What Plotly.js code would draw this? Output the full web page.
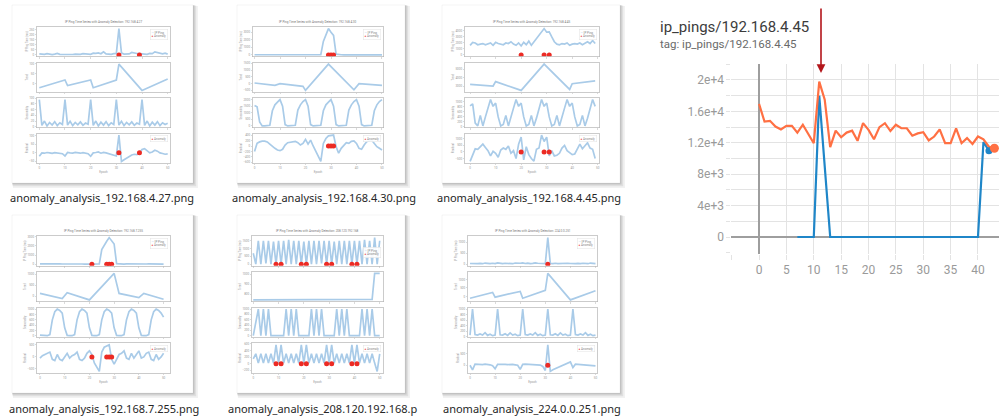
<!DOCTYPE html>
<html><head><meta charset="utf-8">
<script src="https://cdn.plot.ly/plotly-3.0.1.min.js"></script>
<style>html,body{margin:0;padding:0;background:#fff;}#chart{width:999px;height:419px;}</style>
</head><body><div id="chart"></div>
<script>
// ================= DATA =================
// Right panel (TensorBoard-like scalar chart)
const mainTitle = 'ip_pings/192.168.4.45';
const mainTag = 'tag: ip_pings/192.168.4.45';
const orangeSteps = [0,1,2,3,4,5,6,7,8,9,10,11,12,13,14,15,16,17,18,19,20,21,22,23,24,25,26,27,28,29,30,31,32,33,34,35,36,37,38,39,40,41,42,43];
const orangeVals = [16950,14700,14800,14070,13700,14150,14150,13300,14300,13200,11950,19800,17500,11450,13550,12700,13300,13550,12250,14500,13650,12450,14000,14500,13500,14300,13850,13850,12900,13200,13350,12300,12800,13700,11950,11950,13850,11950,12600,11850,12800,12450,11500,11300];
const blueSteps = [7,8,9,10,11,12,13,14,15,16,17,18,19,20,21,22,23,24,25,26,27,28,29,30,31,32,33,34,35,36,37,38,39,40,41,42];
const blueVals = [0,0,0,0,18000,9000,0,0,0,0,0,0,0,0,0,0,0,0,0,0,0,0,0,0,0,0,0,0,0,0,0,0,0,0,12100,11000];
const mainXTickVals = [-5,0,5,10,15,20,25,30,35,40];
const mainXTickText = ['','0','5','10','15','20','25','30','35','40'];
const mainYTickVals = [0,4000,8000,12000,16000,20000];
const mainYTickText = ['0','4e+3','8e+3','1.2e+4','1.6e+4','2e+4'];
const mainYMinorVals = [-2000,2000,6000,10000,14000,18000,22000];

// Thumbnails
const epochs = [0,1,2,3,4,5,6,7,8,9,10,11,12,13,14,15,16,17,18,19,20,21,22,23,24,25,26,27,28,29,30,31,32,33,34,35,36,37,38,39,40,41,42,43,44,45,46,47,48,49,50];
const ips = ['192.168.4.27','192.168.4.30','192.168.4.45','192.168.7.255','208.120.192.168','224.0.0.251'];
const captions = ['anomaly_analysis_192.168.4.27.png','anomaly_analysis_192.168.4.30.png','anomaly_analysis_192.168.4.45.png','anomaly_analysis_192.168.7.255.png','anomaly_analysis_208.120.192.168.p','anomaly_analysis_224.0.0.251.png'];
const subLabels = ['IP Ping Time (ms)','Trend','Seasonality','Residual'];

// 192.168.4.27
const p1 = [10,8,5,12,6,4,8,15,6,5,7,10,6,4,8,6,5,12,8,10,6,18,15,20,12,30,10,8,6,12,15,262,20,8,6,10,25,18,14,12,8,10,6,15,12,30,22,14,10,18,8];
const t1x = [0,10,11,20,21,30,31,40,50];
const t1y = [-19,19,-8,19,-19,19,97,-32,24];
const s1 = [95,5,20,3,15,6,18,4,14,8,95,6,19,4,15,7,17,5,13,9,95,5,20,3,16,6,18,4,14,8,95,6,19,4,15,7,17,5,13,9,95,5,20,3,16,6,18,4,14,8,12];
const r1 = [-20,0,-2,2,0,-3,1,0,-2,-5,-18,2,0,-1,3,0,-2,1,0,-5,-20,0,2,5,-2,3,0,-5,-8,-12,-18,104,-50,-40,-30,-20,-12,-8,-10,-3,20,25,10,0,5,15,10,0,-4,-8,-6];
const a1 = [31,39];

// 192.168.4.30
const p2 = [20,15,25,10,20,15,10,25,20,15,10,20,15,25,10,20,15,10,20,25,15,10,20,15,25,10,20,1800,2600,3500,3000,2600,100,15,20,10,25,15,20,10,15,20,10,25,15,20,10,15,20,25,15];
const t2x = [0,8,10,19,20,29,39,41,50];
const t2y = [50,-125,0,-200,-500,1450,-450,0,-125];
const s2 = [1550,1450,300,0,0,0,50,1150,1600,1800,2000,1500,100,0,0,0,50,1200,1600,1850,2000,1500,100,0,0,0,50,1150,1600,1800,2000,1500,100,0,0,0,50,1200,1600,1850,2000,1500,100,0,0,0,50,1150,1600,1850,2000];
const r2 = [-200,100,150,180,180,150,70,-25,-85,-145,-170,-120,35,120,130,155,170,120,35,95,240,70,215,0,-200,-385,-565,95,275,370,395,400,-25,-265,-85,35,120,95,170,190,95,-85,-120,35,155,190,215,95,-25,-85,-145];
const a2 = [29,30,31];

// 192.168.4.45
const p3 = [1600,2100,2000,1700,1800,1900,1700,1800,2000,1600,2100,1900,1800,1700,2000,1900,2200,1800,1600,2000,1500,2100,1700,2300,1600,2200,2600,3300,4000,4400,3800,3850,3000,2200,1800,1700,1900,1800,2000,1600,1800,1900,1800,2000,1700,1900,2200,1900,2400,1900];
const t3x = [0,9,10,20,29,39,40,49];
const t3y = [3200,3000,3520,2480,5600,2600,3280,3600];
const s3 = [840,920,150,40,460,40,400,750,1090,820,950,400,40,100,460,40,350,750,1090,820,950,400,40,100,460,40,350,750,1090,820,950,400,40,100,460,40,350,750,1090,820,950,400,40,100,460,40,350,750,1090,820];
const r3 = [-720,-200,240,200,400,600,350,100,-300,50,-100,-400,150,300,200,450,-100,100,-500,600,1140,-600,400,-200,-500,-700,200,300,1290,800,1140,-300,100,-300,-250,-100,300,500,100,-50,-200,-150,250,600,250,500,700,300,200,-500];
const a3 = [20,29,31];

// 192.168.7.255
const p4 = [20,10,15,25,10,20,15,10,20,15,25,10,20,15,10,20,25,15,10,20,15,10,20,25,15,1600,2100,2500,2900,2600,2200,50,15,20,10,25,15,20,10,15,20,10,25,15,20,10,15,20,25,15,10];
const t4x = [0,9,11,20,30,32,40,42,50];
const t4y = [120,-120,150,-180,1050,120,-75,120,-150];
const s4 = [30,20,10,10,50,600,900,1000,950,850,300,20,10,10,50,600,900,1000,950,850,300,20,10,10,50,600,900,1000,950,850,300,20,10,10,50,600,900,1000,950,850,300,20,10,10,50,600,900,1000,950,850,700];
const r4 = [-50,50,100,150,200,-100,-150,100,-100,-150,0,150,-50,50,100,200,-100,-150,-50,150,250,100,-250,-450,-600,200,400,450,500,-100,-300,-100,100,150,250,-50,-100,150,-50,100,250,-50,0,150,200,-100,-150,100,-100,0,150];
const a4 = [21,27,28,29];

// 208.120.192.168
const p5 = [700,0,1500,0,1500,50,1500,0,1450,0,1500,0,1500,0,1550,0,1500,0,1500,0,1450,0,1500,0,1500,0,1500,50,1500,0,1500,0,1450,0,1500,0,1500,0,1500,0,1500,0,1500,0,1550,0,1500,0,1700,0,1500];
const t5x = [0,47,48,50];
const t5y = [740,745,1010,1010];
const s5 = [0,500,1000,0,1000,0,1000,0,0,0,0,0,0,1000,0,1000,0,1000,0,0,0,0,0,1000,0,1000,0,1000,0,0,0,0,0,1000,0,1000,0,1000,0,0,0,0,0,1000,0,1000,0,1000,0,0,0];
const r5 = [150,300,20,300,20,300,20,300,20,570,20,570,20,300,20,300,20,300,20,570,20,570,20,300,20,300,20,300,20,570,20,570,20,300,20,300,20,300,20,570,20,570,20,300,20,300,20,300,20,-230,300];
const a5 = [9,11,19,21,29,31,39,41];

// 224.0.0.251
const p6 = [30,20,40,25,35,20,50,30,20,40,25,60,30,20,40,25,35,20,50,30,40,60,30,50,25,35,60,40,30,50,20,1200,30,25,40,20,30,25,35,40,30,20,25,35,20,40,30,20,50,30,25];
const t6x = [0,9,10,20,21,30,31,40,50];
const t6y = [-100,240,-40,300,-100,360,1360,-200,340];
const s6 = [60,1000,80,60,100,60,150,50,90,40,60,1000,70,60,110,50,140,60,90,40,60,1000,80,60,100,60,150,50,90,40,60,1000,70,60,110,50,140,60,90,40,60,1000,80,60,100,60,150,50,90,40,60];
const r6 = [0,-200,50,40,60,30,50,40,20,-20,-150,40,50,60,40,30,50,40,20,0,-180,40,50,40,30,20,40,30,10,-50,-230,900,-270,-200,-150,-100,-50,0,50,100,150,-100,50,40,30,20,10,0,-20,-10,-30];
const a6 = [31];

// ================= LAYOUT HELPERS =================
const W = 999, H = 419;
const fx = v => v / W;
const fy = v => 1 - v / H;

const thumbs = [
  {ping:p1, tx:t1x, ty:t1y, seas:s1, res:r1, an:a1},
  {ping:p2, tx:t2x, ty:t2y, seas:s2, res:r2, an:a2},
  {ping:p3, tx:t3x, ty:t3y, seas:s3, res:r3, an:a3},
  {ping:p4, tx:t4x, ty:t4y, seas:s4, res:r4, an:a4},
  {ping:p5, tx:t5x, ty:t5y, seas:s5, res:r5, an:a5},
  {ping:p6, tx:t6x, ty:t6y, seas:s6, res:r6, an:a6}
];
const frames = [
  {card:[12,5,193,183], ax:[37,170], rows:[27,163], xr:[-0.9,50.9], cap:[102,197], legTop:28},
  {card:[237,5,405,183], ax:[253,383], rows:[27,163], xr:[-0.6,50.4], cap:[324,197], legTop:28},
  {card:[442,5,620,183], ax:[465,599], rows:[27,163], xr:[-2,50.5], cap:[529,197], legTop:28},
  {card:[12,215,193,393], ax:[37,170], rows:[236,373], xr:[-1.2,52.6], cap:[104,408], legTop:237},
  {card:[237,215,405,393], ax:[252,383], rows:[236,373], xr:[-0.5,51.3], cap:[323,408], legTop:247},
  {card:[442,215,620,393], ax:[468,597], rows:[236,373], xr:[-0.8,50.6], cap:[532,408], legTop:237}
];

const lineBlue = '#a9cbe8';
const anomRed = '#ec2b24';
const traces = [];
const shapes = [];
const annotations = [];
const layout = {
  width: W, height: H, margin:{l:0,r:0,t:0,b:0}, autosize:false,
  paper_bgcolor:'#ffffff', plot_bgcolor:'rgba(0,0,0,0)', showlegend:false,
  font:{family:'Roboto, "Noto Sans", sans-serif'}
};

function padRange(arr){
  let mn = Math.min(...arr), mx = Math.max(...arr);
  const p = (mx - mn) * 0.06 || 1;
  return [mn - p, mx + p];
}

thumbs.forEach((t, i) => {
  const f = frames[i];
  const [cx0, cy0, cx1, cy1] = f.card;
  // card shadow + card
  shapes.push({type:'rect', xref:'paper', yref:'paper', layer:'below', x0:fx(cx0+1), x1:fx(cx1+5), y0:fy(cy1+5), y1:fy(cy0+1), fillcolor:'rgba(0,0,0,0.05)', line:{width:0}});
  shapes.push({type:'rect', xref:'paper', yref:'paper', layer:'below', x0:fx(cx0+0.5), x1:fx(cx1+3.2), y0:fy(cy1+3.2), y1:fy(cy0+0.5), fillcolor:'rgba(0,0,0,0.08)', line:{width:0}});
  shapes.push({type:'rect', xref:'paper', yref:'paper', layer:'below', x0:fx(cx0), x1:fx(cx1+1.6), y0:fy(cy1+1.6), y1:fy(cy0), fillcolor:'rgba(0,0,0,0.11)', line:{width:0}});
  shapes.push({type:'rect', xref:'paper', yref:'paper', layer:'below', x0:fx(cx0), x1:fx(cx1), y0:fy(cy1), y1:fy(cy0), fillcolor:'#ffffff', line:{color:'rgba(0,0,0,0.08)', width:0.6}});

  const [top, bot] = f.rows;
  const gap = 6;
  const h = (bot - top - 3*gap) / 4;
  const series = [
    {x: epochs.slice(0, t.ping.length), y: t.ping, anom:true},
    {x: t.tx, y: t.ty, anom:false},
    {x: epochs.slice(0, t.seas.length), y: t.seas, anom:false},
    {x: epochs.slice(0, t.res.length), y: t.res, anom:true}
  ];
  series.forEach((s, k) => {
    const idx = 2 + i*4 + k;
    const yt = top + k*(h+gap), yb = yt + h;
    const rngData = s.anom ? s.y.concat([0]) : s.y;
    layout['xaxis'+idx] = {
      domain:[fx(f.ax[0]), fx(f.ax[1])], range:f.xr, anchor:'y'+idx,
      showline:true, mirror:true, linecolor:'#b5b5b5', linewidth:0.7,
      showgrid:false, zeroline:false, ticks:'outside', ticklen:1.5, tickwidth:0.5, tickcolor:'#b5b5b5',
      tick0:0, dtick:10, showticklabels:k===3, tickfont:{size:3, color:'#999'},
      title: k===3 ? {text:'Epoch', font:{size:3, color:'#999'}, standoff:1} : undefined,
      fixedrange:true
    };
    layout['yaxis'+idx] = {
      domain:[fy(yb), fy(yt)], range:padRange(rngData), anchor:'x'+idx,
      showline:true, mirror:true, linecolor:'#b5b5b5', linewidth:0.7,
      showgrid:false, zeroline:false, ticks:'outside', ticklen:1.5, tickwidth:0.5, tickcolor:'#b5b5b5',
      nticks:6, tickfont:{size:3, color:'#999'},
      title:{text:subLabels[k], font:{size:2.6, color:'#999'}, standoff:1},
      fixedrange:true
    };
    traces.push({type:'scatter', mode:'lines', x:s.x, y:s.y, xaxis:'x'+idx, yaxis:'y'+idx,
      line:{color:lineBlue, width:1.7}, hoverinfo:'skip'});
    if (s.anom) {
      traces.push({type:'scatter', mode:'markers', x:t.an, y:t.an.map(() => 0), xaxis:'x'+idx, yaxis:'y'+idx,
        marker:{color:anomRed, size:5, line:{width:0}}, hoverinfo:'skip'});
    }
    if (k === 0) {
      annotations.push({xref:'paper', yref:'paper', x:fx((f.ax[0]+f.ax[1])/2), y:fy(yt-1), xanchor:'center', yanchor:'bottom',
        text:'IP Ping Time Series with Anomaly Detection: ' + ips[i], showarrow:false, font:{size:3, color:'#777'}});
      const ly = i === 4 ? f.legTop : yt + 1.5;
      annotations.push({xref:'paper', yref:'paper', x:fx(f.ax[1]-2), y:fy(ly), xanchor:'right', yanchor:'top', align:'left',
        text:'<span style="color:'+lineBlue+'">—</span> IP Ping<br><span style="color:'+anomRed+'">●</span> Anomaly',
        showarrow:false, font:{size:3, color:'#888'}, bgcolor:'rgba(255,255,255,0.9)', bordercolor:'#e2e2e2', borderwidth:0.5, borderpad:1});
    }
    if (k === 3) {
      annotations.push({xref:'paper', yref:'paper', x:fx(f.ax[1]-2), y:fy(yt+1.5), xanchor:'right', yanchor:'top', align:'left',
        text:'<span style="color:'+anomRed+'">●</span> Anomaly',
        showarrow:false, font:{size:3, color:'#888'}, bgcolor:'rgba(255,255,255,0.9)', bordercolor:'#e2e2e2', borderwidth:0.5, borderpad:1});
    }
  });
  // caption
  annotations.push({xref:'paper', yref:'paper', x:fx(f.cap[0]), y:fy(f.cap[1]), xanchor:'center', yanchor:'middle',
    text:captions[i], showarrow:false, font:{family:'"Noto Sans", "Open Sans", sans-serif', size:11, color:'#262626'}});
});

// ===== main chart =====
const gridC = '#e3e3e3';
const zeroC = '#9e9e9e';
const labC = '#9a9a9a';
const mainL = 731.4;
layout.xaxis = {
  domain:[fx(mainL), 1], range:[-5.05, 43.84], anchor:'y',
  tickmode:'array', tickvals:mainXTickVals, ticktext:mainXTickText,
  showgrid:true, gridcolor:gridC, gridwidth:1,
  zeroline:true, zerolinecolor:zeroC, zerolinewidth:1.6,
  ticks:'outside', ticklen:5, tickcolor:gridC, showline:false,
  tickfont:{family:'Roboto, sans-serif', size:12, color:labC}, fixedrange:true
};
layout.yaxis = {
  domain:[fy(253.5), fy(63.5)], range:[-2100, 22100], anchor:'x',
  tickmode:'array', tickvals:mainYTickVals, ticktext:mainYTickText,
  showgrid:true, gridcolor:gridC, gridwidth:1,
  zeroline:true, zerolinecolor:zeroC, zerolinewidth:1.6,
  ticks:'outside', ticklen:4, tickcolor:gridC, showline:false,
  minor:{tickmode:'array', tickvals:mainYMinorVals, showgrid:true, gridcolor:gridC, gridwidth:1, ticks:'outside', ticklen:4, tickcolor:gridC},
  tickfont:{family:'Roboto, sans-serif', size:12, color:labC}, fixedrange:true
};
traces.push({type:'scatter', mode:'lines', x:blueSteps, y:blueVals, xaxis:'x', yaxis:'y',
  line:{color:'#1f86c8', width:2.2}, cliponaxis:false, hoverinfo:'skip'});
traces.push({type:'scatter', mode:'lines', x:orangeSteps, y:orangeVals, xaxis:'x', yaxis:'y',
  line:{color:'#ff7043', width:2.2}, hoverinfo:'skip'});
traces.push({type:'scatter', mode:'markers', x:[blueSteps[blueSteps.length-1]], y:[blueVals[blueVals.length-1]], xaxis:'x', yaxis:'y',
  marker:{color:'#1f86c8', size:7}, cliponaxis:false, hoverinfo:'skip'});
traces.push({type:'scatter', mode:'markers', x:[orangeSteps[orangeSteps.length-1]], y:[orangeVals[orangeVals.length-1]], xaxis:'x', yaxis:'y',
  marker:{color:'#ff7043', size:9}, cliponaxis:false, hoverinfo:'skip'});

annotations.push({xref:'paper', yref:'paper', x:fx(658), y:fy(27), xanchor:'left', yanchor:'middle',
  text:mainTitle, showarrow:false, font:{family:'Roboto, sans-serif', size:15, color:'#3c3c3c'}});
annotations.push({xref:'paper', yref:'paper', x:fx(658), y:fy(44), xanchor:'left', yanchor:'middle',
  text:mainTag, showarrow:false, font:{family:'Roboto, sans-serif', size:11.5, color:'#6a6a6a'}});
// red arrow marker above the spike
annotations.push({xref:'paper', yref:'paper', x:fx(821), y:fy(73), showarrow:true, ax:0, ay:-66,
  arrowcolor:'#b3161b', arrowwidth:1.6, arrowhead:2, arrowsize:1.1, text:''});

layout.shapes = shapes;
layout.annotations = annotations;

Plotly.newPlot('chart', traces, layout, {staticPlot:true, displayModeBar:false});
</script>
</body></html>
